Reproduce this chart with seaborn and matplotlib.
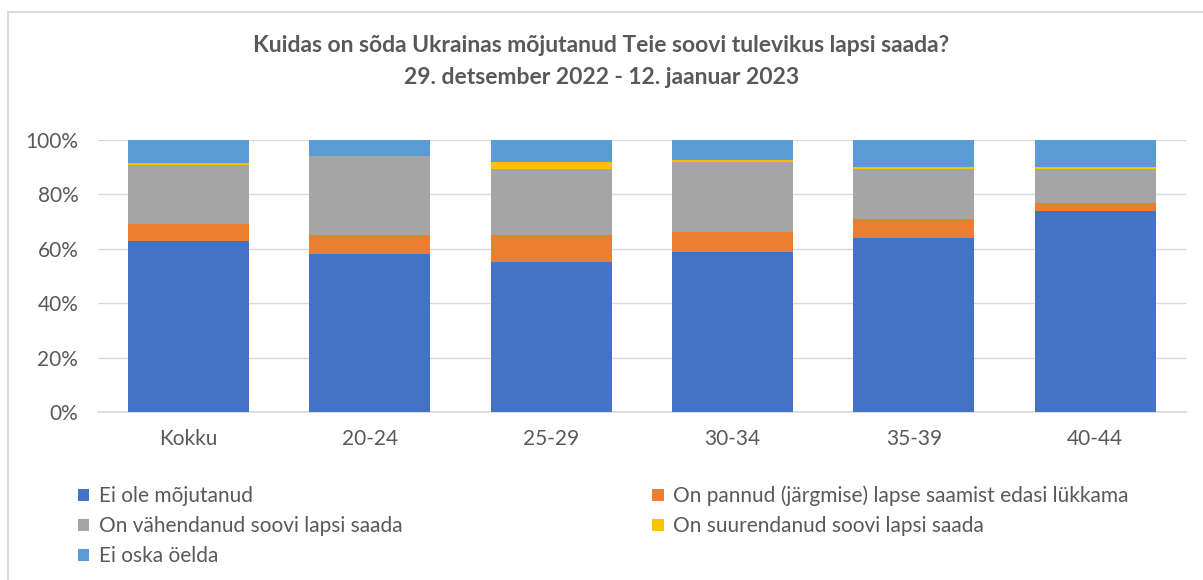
import numpy as np
import pandas as pd
import seaborn as sns
import matplotlib.pyplot as plt
from matplotlib.patches import Patch, Rectangle
from matplotlib.ticker import PercentFormatter

categories = ['Kokku', '20-24', '25-29', '30-34', '35-39', '40-44']
ei_ole = [63, 58, 55, 59, 64, 74]
edasi_lykkama = [6, 7, 10, 7, 7, 3]
vahendanud = [21.8, 29, 24.5, 26, 18.5, 12.5]
suurendanud = [0.7, 0, 2.5, 0.5, 0.5, 0.5]
ei_oska = [8.5, 6, 8, 7.5, 10, 10]

series = [
    ('Ei ole mõjutanud', ei_ole, '#4472C4'),
    ('On pannud (järgmise) lapse saamist edasi lükkama', edasi_lykkama, '#ED7D31'),
    ('On vähendanud soovi lapsi saada', vahendanud, '#A5A5A5'),
    ('On suurendanud soovi lapsi saada', suurendanud, '#FFC000'),
    ('Ei oska öelda', ei_oska, '#5B9BD5'),
]

sns.set_theme(style='white')
plt.rcParams['font.family'] = ['Lato', 'DejaVu Sans']
txt = '#595959'

fig = plt.figure(figsize=(12.03, 5.8), dpi=100)
W, H = 1203, 580
ax = fig.add_axes([97.75 / W, 1 - 412 / H, (1186 - 97.75) / W, (412 - 140) / H])

bottom = np.zeros(len(categories))
for name, vals, col in series:
    sns.barplot(x=categories, y=vals, bottom=bottom, color=col, width=0.667,
                ax=ax, saturation=1, zorder=3, linewidth=0, edgecolor='none')
    bottom = bottom + np.array(vals)

ax.set_ylim(0, 100)
ax.set_xlim(-0.5, len(categories) - 0.5)
ax.set_yticks(np.arange(0, 101, 20))
ax.yaxis.set_major_formatter(PercentFormatter(decimals=0))
ax.grid(axis='y', color='#D9D9D9', lw=1, zorder=0)
for s in ['top', 'right', 'left']:
    ax.spines[s].set_visible(False)
ax.spines['bottom'].set_color('#D9D9D9')
ax.tick_params(axis='both', length=0, labelsize=15, colors=txt)
ax.tick_params(axis='y', pad=14)
ax.tick_params(axis='x', pad=12)

fig.text(0.5, 1 - 45 / H, 'Kuidas on sõda Ukrainas mõjutanud Teie soovi tulevikus lapsi saada?',
         ha='center', va='center', fontsize=16.5, fontweight='bold', color=txt)
fig.text(0.5, 1 - 78 / H, '29. detsember 2022 - 12. jaanuar 2023',
         ha='center', va='center', fontsize=16.5, fontweight='bold', color=txt)

# legend filled column-wise
order = [0, 2, 4, 1, 3]
handles = [Patch(facecolor=series[i][2], edgecolor='none') for i in order]
labels = [series[i][0] for i in order]
leg = fig.legend(handles, labels, ncol=2, loc='upper left',
                 bbox_to_anchor=(59 / W, 1 - 467 / H), frameon=False,
                 fontsize=15, labelcolor=txt, handlelength=0.55, handleheight=0.55,
                 handletextpad=0.45, columnspacing=12.0, labelspacing=0.48)

fig.patches.append(Rectangle((8 / W, -0.1), 1.1, 1 - 12 / H + 0.1, transform=fig.transFigure,
                             fill=False, edgecolor='#D9D9D9', lw=1.5))

fig.savefig('out.png', dpi=100)
